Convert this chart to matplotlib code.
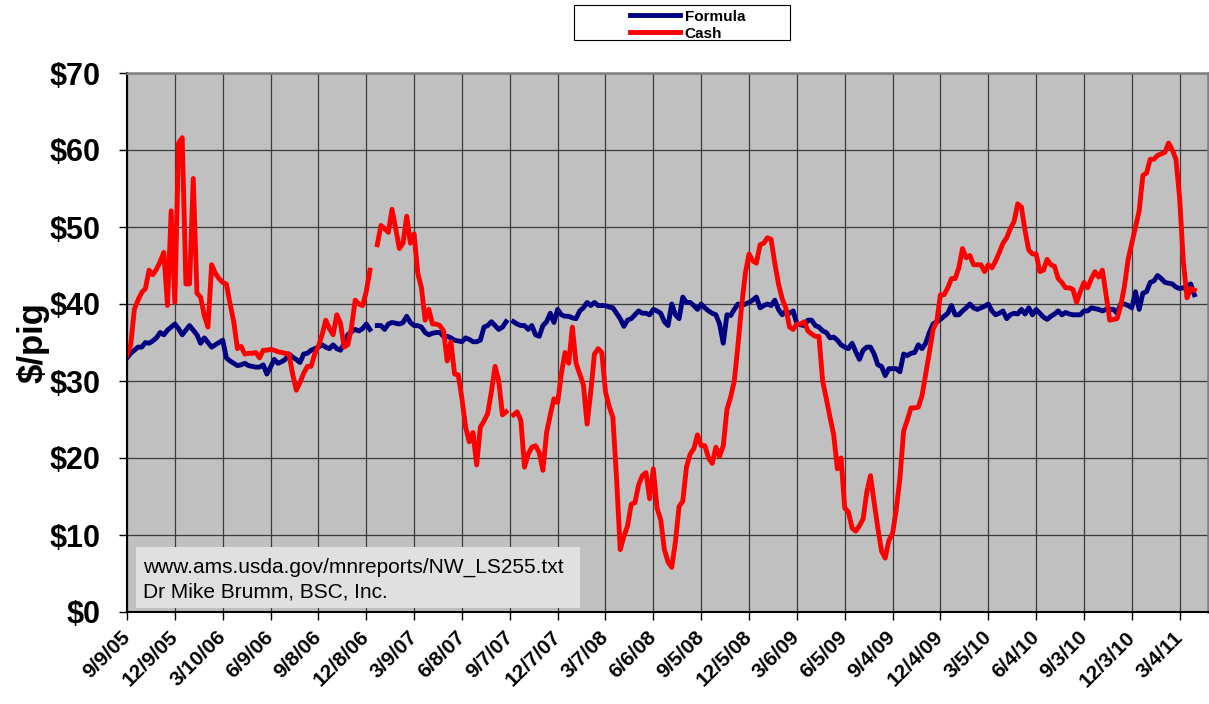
import matplotlib.pyplot as plt
import numpy as np
from matplotlib.patches import Rectangle

nan = np.nan

# weekly series, 9/9/05 .. end of March 2011
tick_labels = ["9/9/05", "12/9/05", "3/10/06", "6/9/06", "9/8/06", "12/8/06",
               "3/9/07", "6/8/07", "9/7/07", "12/7/07", "3/7/08", "6/6/08",
               "9/5/08", "12/5/08", "3/6/09", "6/5/09", "9/4/09", "12/4/09",
               "3/5/10", "6/4/10", "9/3/10", "12/3/10", "3/4/11"]

formula = [
    33.0, 33.6, 34.0, 34.4, 34.4, 35.0, 34.9, 35.2, 35.6, 36.3,
    36.0, 36.6, 37.0, 37.4, 36.8, 36.0, 36.6, 37.2, 36.6, 36.0,
    34.9, 35.6, 35.0, 34.4, 34.7, 35.0, 35.3, 33.0, 32.6, 32.3,
    32.0, 32.1, 32.3, 32.0, 31.9, 31.8, 31.8, 32.1, 30.9, 31.8,
    32.8, 32.3, 32.5, 32.8, 33.5, 33.1, 32.8, 32.4, 33.5, 33.6,
    34.0, 34.2, 34.4, 34.7, 34.4, 34.2, 34.7, 34.2, 34.0, 34.9,
    36.0, 36.4, 36.7, 36.5, 36.8, 37.4, 36.7, nan, 37.2, 37.2,
    36.7, 37.4, 37.6, 37.5, 37.4, 37.6, 38.4, 37.6, 37.2, 37.2,
    37.0, 36.3, 36.0, 36.2, 36.3, 36.3, 35.8, 35.8, 35.6, 35.3,
    35.2, 35.1, 35.6, 35.4, 35.1, 35.1, 35.3, 37.0, 37.2, 37.7,
    37.2, 36.7, 37.0, 37.7, nan, 37.7, 37.4, 37.2, 37.2, 36.7,
    37.2, 36.0, 35.8, 37.2, 37.7, 38.8, 37.6, 39.3, 38.6, 38.4,
    38.4, 38.2, 38.1, 39.1, 39.5, 40.2, 39.8, 40.2, 39.8, 39.8,
    39.8, 39.6, 39.5, 38.8, 38.1, 37.1, 37.9, 38.1, 38.6, 39.1,
    38.8, 38.8, 38.6, 39.3, 39.1, 38.8, 37.7, 37.2, 40.0, 38.6,
    38.1, 40.9, 40.2, 40.2, 39.8, 39.3, 40.0, 39.5, 39.1, 38.8,
    38.6, 37.4, 34.9, 38.6, 38.5, 39.3, 40.0, 39.8, 40.0, 40.2,
    40.5, 40.9, 39.5, 39.8, 40.0, 39.8, 40.5, 39.3, 38.6, 39.1,
    38.8, 39.1, 37.4, 37.3, 37.2, 37.9, 37.9, 37.2, 37.0, 36.5,
    36.3, 35.6, 35.7, 35.3, 34.7, 34.4, 34.2, 34.9, 33.8, 32.8,
    34.0, 34.4, 34.4, 33.5, 32.1, 31.9, 30.7, 31.6, 31.6, 31.6,
    31.2, 33.5, 33.3, 33.6, 33.7, 34.7, 34.2, 34.9, 36.3, 37.4,
    37.7, 38.0, 38.4, 38.8, 39.8, 38.6, 38.6, 39.1, 39.5, 40.0,
    39.5, 39.3, 39.5, 39.7, 40.0, 39.1, 38.6, 38.8, 39.1, 38.1,
    38.6, 38.8, 38.7, 39.3, 38.7, 39.5, 38.6, 39.3, 38.8, 38.3,
    38.0, 38.4, 38.7, 39.1, 38.6, 38.9, 38.7, 38.6, 38.6, 38.6,
    39.1, 39.1, 39.5, 39.4, 39.3, 39.1, 39.3, 39.3, 39.3, 38.8,
    40.0, 40.0, 39.8, 39.5, 41.6, 39.3, 41.4, 41.6, 42.8, 43.0,
    43.7, 43.3, 42.8, 42.7, 42.6, 42.2, 42.0, 42.1, 42.2, 42.6,
    41.2,
]

cash = [
    33.3, 34.7, 39.3, 40.5, 41.5, 42.0, 44.4, 43.8, 44.5, 45.5,
    46.7, 39.8, 52.1, 40.2, 60.9, 61.6, 42.6, 42.6, 56.3, 41.4,
    40.9, 38.5, 37.0, 45.1, 44.0, 43.3, 42.8, 42.6, 40.0, 37.7,
    34.2, 34.5, 33.5, 33.6, 33.6, 33.7, 33.0, 34.0, 34.0, 34.1,
    34.0, 33.8, 33.7, 33.6, 33.5, 30.9, 28.8, 29.8, 31.0, 31.9,
    31.9, 33.5, 34.5, 36.0, 37.9, 36.8, 36.0, 38.6, 37.5, 34.4,
    34.7, 37.0, 40.5, 40.0, 39.8, 41.6, 44.4, nan, 47.7, 50.2,
    49.8, 49.3, 52.3, 49.8, 47.2, 47.9, 51.4, 47.9, 49.1, 44.0,
    42.1, 37.9, 39.3, 37.4, 37.4, 37.2, 36.5, 32.6, 35.1, 30.9,
    30.8, 27.7, 24.0, 22.1, 23.3, 19.1, 24.0, 24.8, 25.8, 28.6,
    31.9, 30.0, 25.6, 26.0, nan, 25.6, 26.0, 24.9, 18.8, 20.5,
    21.4, 21.6, 20.7, 18.4, 23.3, 25.6, 27.7, 27.2, 30.9, 33.7,
    32.3, 37.0, 32.3, 30.9, 29.5, 24.4, 28.6, 33.5, 34.2, 33.7,
    28.6, 26.7, 25.3, 17.4, 8.1, 9.8, 11.2, 14.0, 14.2, 16.5,
    17.7, 18.1, 14.7, 18.6, 13.5, 12.0, 8.1, 6.5, 5.8, 9.1,
    13.7, 14.4, 18.8, 20.5, 21.2, 23.0, 21.6, 21.6, 20.0, 19.3,
    21.4, 20.2, 21.6, 26.3, 27.9, 30.0, 34.7, 39.8, 44.0, 46.5,
    45.6, 45.3, 47.7, 47.9, 48.6, 48.4, 45.3, 42.6, 40.7, 39.5,
    37.0, 36.7, 37.4, 37.4, 37.7, 36.5, 36.1, 35.8, 35.8, 30.0,
    27.7, 25.3, 23.0, 18.6, 20.0, 13.5, 13.0, 10.9, 10.5, 11.2,
    12.1, 15.6, 17.7, 14.2, 10.9, 7.9, 7.0, 9.3, 10.2, 13.3,
    17.4, 23.5, 24.9, 26.5, 26.5, 26.6, 28.1, 30.9, 33.7, 36.7,
    37.7, 41.2, 41.2, 42.1, 43.3, 43.3, 44.7, 47.2, 46.0, 46.3,
    45.1, 45.1, 45.1, 44.2, 45.1, 44.7, 45.6, 46.7, 47.9, 48.6,
    49.8, 50.7, 53.0, 52.6, 49.5, 47.0, 46.5, 46.5, 44.2, 44.4,
    45.8, 45.1, 44.9, 43.3, 42.8, 42.1, 42.1, 41.9, 40.2, 41.6,
    42.8, 42.1, 43.3, 44.2, 43.5, 44.4, 41.2, 37.9, 38.0, 38.1,
    39.8, 42.3, 45.8, 47.9, 50.0, 52.1, 56.7, 57.0, 58.8, 58.8,
    59.3, 59.5, 59.7, 60.9, 60.0, 58.8, 53.7, 45.5, 40.8, 42.0,
    41.8,
]

y_ticks = [0, 10, 20, 30, 40, 50, 60, 70]

plt.rcParams["font.family"] = ["Liberation Sans", "DejaVu Sans"]

W, H = 1209, 704
fig = plt.figure(figsize=(W / 100, H / 100), dpi=100)
ax = fig.add_axes([127 / W, 1 - 612 / H, (1208 - 127) / W, (612 - 73) / H])
ax.set_facecolor("#c0c0c0")

x = np.arange(len(cash))
ax.plot(x, formula, color="#000080", lw=3.5, label="Formula")
ax.plot(x, cash, color="#ff0000", lw=3.5, label="Cash")

ax.set_xlim(0, 293.7)
ax.set_ylim(0, 70)
ax.set_xticks(np.arange(len(tick_labels)) * 13)
ax.set_xticklabels(tick_labels, rotation=45, ha="right", va="center",
                   rotation_mode="anchor", fontsize=15, fontweight="bold")
ax.set_yticks(y_ticks)
ax.set_yticklabels([f"${v}" for v in y_ticks], fontsize=22, fontweight="bold")
ax.tick_params(axis="x", direction="out", length=6, width=1, pad=10)
ax.tick_params(axis="y", direction="out", length=6, width=1, pad=13)
ax.grid(True, color="#3a3a3a", lw=0.9)
ax.set_axisbelow(True)
ax.set_ylabel("$/pig", fontsize=25, fontweight="bold", labelpad=0)

for side in ("top", "right"):
    ax.spines[side].set_color("#808080")
    ax.spines[side].set_linewidth(1.8)
for side in ("left", "bottom"):
    ax.spines[side].set_color("black")
    ax.spines[side].set_linewidth(1.5)

# legend box at the top
fig.add_artist(Rectangle((574 / W, 1 - 40 / H), 216 / W, 35 / H,
                         transform=fig.transFigure, fc="white", ec="black", lw=0.8))
fig.legend(loc="upper left", bbox_to_anchor=(622 / W, 1 - 2 / H), frameon=False,
           borderpad=0, handlelength=3.3, handletextpad=0.3, labelspacing=0.2,
           prop={"size": 11, "weight": "bold"})

# source box
fig.add_artist(Rectangle((136 / W, 1 - 608 / H), 444 / W, 61 / H,
                         transform=fig.transFigure, fc="#e0e0e0", ec="none"))
fig.text(143 / W, 1 - 567 / H, "www.ams.usda.gov/mnreports/NW_LS255.txt",
         fontsize=15, va="center", zorder=3)
fig.text(143 / W, 1 - 592 / H, "Dr Mike Brumm, BSC, Inc.",
         fontsize=15, va="center", zorder=3)

fig.savefig("out.png", dpi=100)
